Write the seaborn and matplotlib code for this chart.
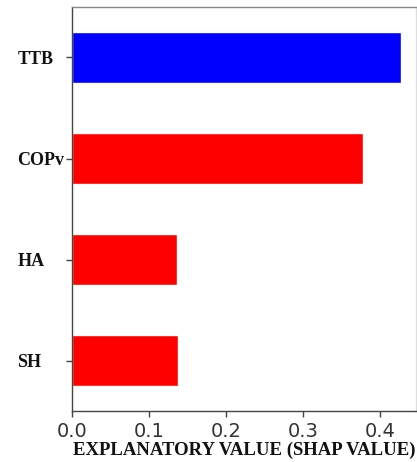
import matplotlib
matplotlib.use("Agg")
import matplotlib.pyplot as plt
import seaborn as sns
import pandas as pd

features = ["TTB", "COPv", "HA", "SH"]
shap_values = [0.427, 0.378, 0.136, 0.137]
bar_colors = ["#0000ff", "#ff0000", "#ff0000", "#ff0000"]
x_ticks = [0.0, 0.1, 0.2, 0.3, 0.4]

sns.set_style("ticks")
df = pd.DataFrame({"feature": features, "value": shap_values})

fig = plt.figure(figsize=(4.17, 4.62), dpi=100)
ax = fig.add_axes([0.173, 0.110, 0.825, 0.875])

sns.barplot(data=df, x="value", y="feature", hue="feature",
            palette=dict(zip(features, bar_colors)), width=0.5,
            legend=False, ax=ax, saturation=1)

ax.set_xlim(0, 0.447)
ax.set_ylim(3.5, -0.5)
ax.set_xticks(x_ticks)
ax.set_xticklabels([f"{t:.1f}" for t in x_ticks], fontsize=14,
                   family="DejaVu Sans", color="#333333")
ax.set_yticks(range(len(features)))
ax.set_yticklabels(features, fontsize=13, fontweight="bold",
                   family="Liberation Serif", color="#111111",
                   ha="left")
ax.set_ylabel("")
ax.set_xlabel("EXPLANATORY VALUE (SHAP VALUE)", fontsize=13.5,
              fontweight="bold", family="Liberation Serif",
              color="#111111", labelpad=1)

for side, col in [("left", "#444444"), ("bottom", "#444444"),
                  ("top", "#888888"), ("right", "#dddddd")]:
    ax.spines[side].set_visible(True)
    ax.spines[side].set_color(col)
    ax.spines[side].set_linewidth(1.0)
ax.tick_params(axis="both", color="#444444", length=4, width=1)
ax.tick_params(axis="y", pad=35.5)

fig.savefig("out.png", dpi=100)
